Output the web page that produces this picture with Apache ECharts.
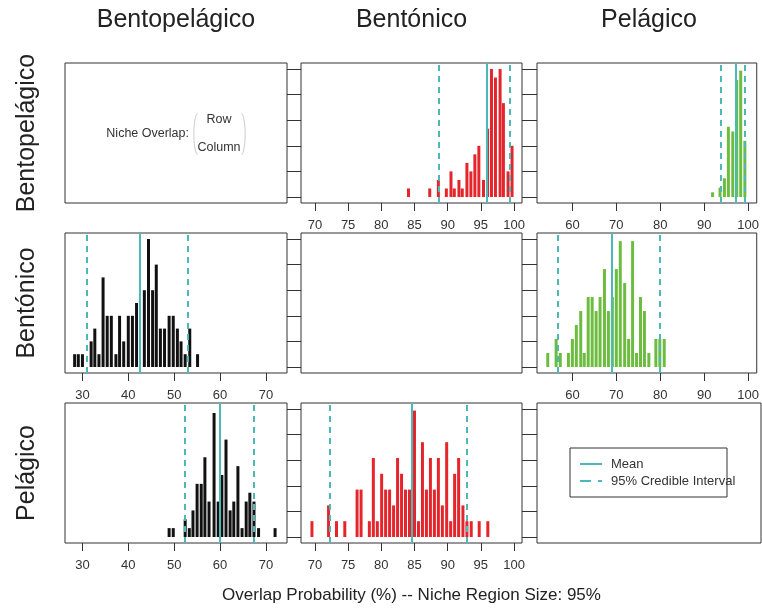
<!DOCTYPE html>
<html>
<head>
<meta charset="utf-8">
<script src="https://cdn.jsdelivr.net/npm/echarts@6/dist/echarts.min.js"></script>
<style>
  html, body { margin: 0; padding: 0; background: #fff; }
  #chart { width: 762px; height: 611px; }
</style>
</head>
<body>
<div id="chart"></div>
<script>
const groups = ['Bentopelágico', 'Bentónico', 'Pelágico'];
const axisTitle = 'Overlap Probability (%) -- Niche Region Size: 95%';
const legendNames = ['Mean', '95% Credible Interval'];

const col1Ticks = [30, 40, 50, 60, 70];
const col2Ticks = [70, 75, 80, 85, 90, 95, 100];
const col3Ticks = [60, 70, 80, 90, 100];

// row Bentopelágico / column Bentónico
const bpBnBins = [84.1, 87.3, 88.6, 89.8, 90.5, 91.0, 91.7, 92.2, 92.9, 93.5, 94.1, 94.7, 95.4, 96.0, 96.6, 97.2, 97.9, 98.4, 99.1, 99.7];
const bpBnCounts = [1, 1, 2, 1, 3, 1, 2, 1, 4, 3, 5, 6, 2, 8, 15, 14, 15, 11, 3, 6];
const bpBnStats = [95.9, 88.6, 99.4]; // mean, lower, upper

// row Bentopelágico / column Pelágico
const bpPeBins = [91.9, 93.6, 94.6, 95.5, 96.5, 97.4, 98.3, 99.25];
const bpPeCounts = [1, 2, 4, 15, 14, 25, 27, 12];
const bpPeStats = [97.1, 93.8, 99.2];

// row Bentónico / column Bentopelágico
const bnBpBins = [28.3, 29.1, 30.0, 31.9, 32.7, 33.6, 34.5, 35.4, 36.3, 37.3, 38.1, 39.0, 40.0, 40.9, 41.8, 43.5, 44.4, 45.3, 46.1, 47.0, 47.9, 48.9, 49.8, 50.7, 51.5, 52.4, 53.4, 55.1];
const bnBpCounts = [1, 1, 1, 2, 3, 1, 7, 4, 4, 1, 4, 2, 4, 4, 5, 6, 10, 6, 8, 3, 3, 4, 4, 3, 2, 1, 3, 1];
const bnBpStats = [42.4, 30.9, 53.05];

// row Bentónico / column Pelágico
const bnPeBins = [54.4, 56.3, 57.25, 59.1, 60.0, 60.9, 61.9, 62.7, 63.6, 64.5, 65.4, 66.3, 67.3, 68.2, 69.1, 70.0, 70.9, 71.9, 72.8, 73.7, 74.6, 75.5, 76.4, 77.4, 79.0, 79.9, 80.9];
const bnPeCounts = [1, 2, 1, 1, 2, 3, 4, 1, 5, 5, 4, 5, 7, 4, 5, 7, 9, 6, 2, 9, 1, 5, 4, 1, 2, 2, 2];
const bnPeStats = [68.9, 56.65, 79.9];

// row Pelágico / column Bentopelágico
const peBpBins = [48.9, 49.8, 52.4, 53.3, 54.1, 55.0, 55.9, 56.7, 57.6, 58.7, 59.6, 60.4, 61.3, 62.2, 63.0, 63.9, 64.8, 65.7, 66.5, 67.4, 68.4, 72.0];
const peBpCounts = [1, 1, 2, 1, 3, 6, 6, 9, 4, 14, 4, 7, 11, 3, 4, 8, 1, 4, 5, 4, 1, 1];
const peBpStats = [60.0, 52.2, 67.25];

// row Pelágico / column Bentónico
const peBnBins = [69.55, 72.05, 73.25, 74.5, 76.35, 76.95, 78.2, 78.8, 79.4, 80.05, 80.65, 81.25, 81.85, 82.45, 83.05, 83.65, 84.25, 85.0, 85.6, 86.2, 86.8, 87.4, 88.0, 88.6, 89.2, 89.85, 90.45, 91.05, 91.65, 92.3, 92.9, 93.55, 94.75, 96.05];
const peBnCounts = [1, 2, 1, 1, 3, 3, 1, 5, 1, 4, 3, 3, 2, 5, 4, 3, 3, 8, 1, 6, 3, 5, 3, 5, 2, 6, 1, 4, 5, 2, 1, 1, 1, 1];
const peBnStats = [84.65, 72.3, 92.9];

const RED = '#e4262c';
const GREEN = '#6cbd3f';
const BLACK = '#111111';
const CYAN = '#4db8b9';
const FONT = '"Liberation Sans", Arial, sans-serif';

const colLeft = [65, 301, 537];
const colWidth = [222, 221, 224];
const rowTop = [63, 233, 403];
const rowHeight = 140;
const xRange = [[26.2, 74.6], [67.9, 101.2], [51.95, 101.95]];
const xTicks = [col1Ticks, col2Ticks, col3Ticks];

const panels = [
  [null, { bins: bpBnBins, counts: bpBnCounts, stats: bpBnStats, color: RED, step: 3 },
         { bins: bpPeBins, counts: bpPeCounts, stats: bpPeStats, color: GREEN, step: 5.47 }],
  [{ bins: bnBpBins, counts: bnBpCounts, stats: bnBpStats, color: BLACK, step: 2 }, null,
   { bins: bnPeBins, counts: bnPeCounts, stats: bnPeStats, color: GREEN, step: 1.83 }],
  [{ bins: peBpBins, counts: peBpCounts, stats: peBpStats, color: BLACK, step: 2.89 },
   { bins: peBnBins, counts: peBnCounts, stats: peBnStats, color: RED, step: 1.62 }, null]
];

const grid = [], xAxis = [], yAxis = [], series = [];

for (let r = 0; r < 3; r++) {
  for (let c = 0; c < 3; c++) {
    const i = r * 3 + c;
    const p = panels[r][c];
    const s = p ? p.step : 1;
    grid.push({
      left: colLeft[c], top: rowTop[r], width: colWidth[c], height: rowHeight,
      show: true, borderColor: '#333', borderWidth: 1, backgroundColor: 'transparent'
    });
    xAxis.push({
      gridIndex: i, type: 'value', min: xRange[c][0], max: xRange[c][1],
      axisLine: { show: false, onZero: false },
      splitLine: { show: false },
      axisTick: { show: !!p, length: 8, customValues: xTicks[c], lineStyle: { color: '#333' } },
      axisLabel: { show: !!p, customValues: xTicks[c], margin: 16, fontSize: 13, color: '#333', fontFamily: FONT },
      name: (r === 2 && c === 1) ? axisTitle : '',
      nameLocation: 'middle', nameGap: 44,
      nameTextStyle: { fontSize: 17, color: '#222', fontFamily: FONT }
    });
    yAxis.push({
      gridIndex: i, type: 'value', min: -0.235 * s, max: 5.235 * s,
      position: c === 2 ? 'left' : 'right',
      axisLine: { show: false, onZero: false },
      splitLine: { show: false },
      axisLabel: { show: false },
      axisTick: {
        show: true, length: c === 0 ? 14 : (c === 1 ? 15 : 7),
        customValues: [0, 1, 2, 3, 4, 5].map(k => k * s),
        lineStyle: { color: '#333' }
      }
    });
    if (p) {
      series.push({
        type: 'bar', xAxisIndex: i, yAxisIndex: i, silent: true,
        data: p.bins.map((x, k) => [x, p.counts[k]]),
        barWidth: 3,
        itemStyle: { color: p.color },
        markLine: {
          silent: true, symbol: 'none', label: { show: false },
          emphasis: { disabled: true },
          lineStyle: { color: CYAN, width: 2 },
          data: [
            { xAxis: p.stats[0], lineStyle: { type: 'solid' } },
            { xAxis: p.stats[1], lineStyle: { type: [6, 5] } },
            { xAxis: p.stats[2], lineStyle: { type: [6, 5] } }
          ]
        }
      });
    }
  }
}

const text = (x, y, str, size, align, color, extra) => Object.assign({
  type: 'text', x: x, y: y,
  style: {
    text: str, fill: color, font: size + 'px ' + FONT,
    align: align, verticalAlign: 'middle', textAlign: align, textVerticalAlign: 'middle'
  }
}, extra || {});

const graphic = [];
groups.forEach((g, k) => {
  graphic.push(text(colLeft[k] + colWidth[k] / 2, 20, g, 25, 'center', '#222'));
  graphic.push(text(27, rowTop[k] + rowHeight / 2, g, 25, 'center', '#222', { rotation: Math.PI / 2 }));
});

// "Niche Overlap: (Row / Column)" note in the first panel
graphic.push(text(189, 134, 'Niche Overlap:', 12.5, 'right', '#333'));
graphic.push(text(219, 120, 'Row', 12.5, 'center', '#333'));
graphic.push(text(219, 148, 'Column', 12.5, 'center', '#333'));
graphic.push({
  type: 'arc', x: 198, y: 134, scaleX: 0.2,
  shape: { cx: 0, cy: 0, r: 21, startAngle: Math.PI * 0.55, endAngle: Math.PI * 1.45 },
  style: { stroke: '#aaa', fill: null, lineWidth: 1, strokeNoScale: true }
});
graphic.push({
  type: 'arc', x: 241, y: 134, scaleX: 0.2,
  shape: { cx: 0, cy: 0, r: 21, startAngle: -Math.PI * 0.45, endAngle: Math.PI * 0.45 },
  style: { stroke: '#aaa', fill: null, lineWidth: 1, strokeNoScale: true }
});

// legend box in the last panel
graphic.push({
  type: 'rect', shape: { x: 570, y: 448, width: 157, height: 49 },
  style: { fill: null, stroke: '#333', lineWidth: 1 }
});
graphic.push({
  type: 'line', shape: { x1: 580, y1: 464, x2: 602, y2: 464 },
  style: { stroke: CYAN, lineWidth: 2 }
});
graphic.push({
  type: 'line', shape: { x1: 580, y1: 481, x2: 602, y2: 481 },
  style: { stroke: CYAN, lineWidth: 2, lineDash: [11, 7] }
});
graphic.push(text(611, 464, legendNames[0], 13, 'left', '#333'));
graphic.push(text(611, 481, legendNames[1], 13, 'left', '#333'));

const myChart = echarts.init(document.getElementById('chart'));
myChart.setOption({
  animation: false,
  backgroundColor: '#fff',
  grid, xAxis, yAxis, series, graphic
});
</script>
</body>
</html>
